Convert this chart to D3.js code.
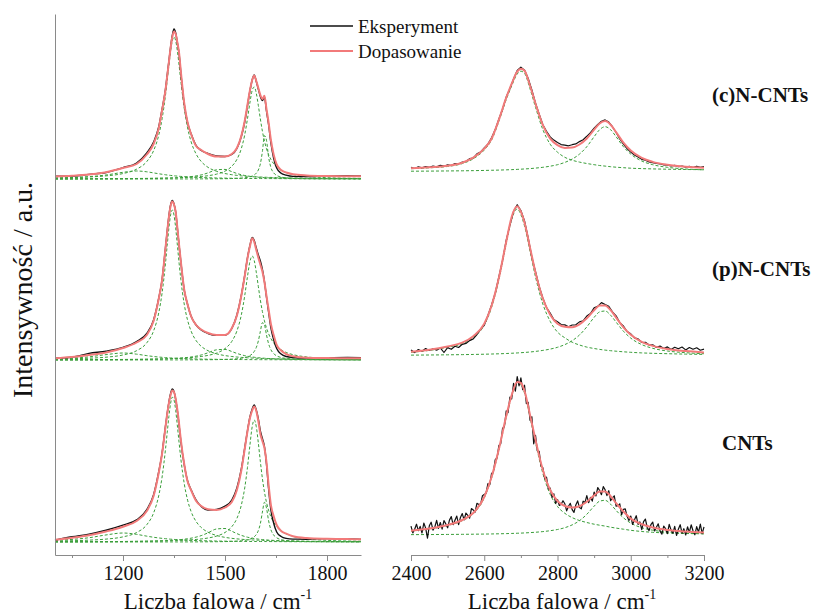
<!DOCTYPE html>
<html><head><meta charset="utf-8">
<script src="https://cdn.jsdelivr.net/npm/d3@7"></script>
<style>body{margin:0;background:#fff}svg{display:block}</style>
</head><body>
<script>
// ===== DATA =====
// Left panel wavenumber sampling (cm-1)
const leftWavenumbers = [1000,1050,1100,1150,1200, 1240,1270,1290,1305,1315, 1325,1330,1335,1340,1345, 1350,1355,1360,1365,1370, 1380,1390,1400,1415,1430, 1450,1475,1500,1520,1535, 1548,1558,1566,1573,1580, 1586,1592,1598,1604,1610, 1616,1622,1628,1635,1643, 1652,1665,1680,1700,1740, 1800,1860,1900];

// (c)N-CNTs, left panel
const cExpLeft = [2.8,2.9,4.6,6.5,11.4, 16,26,37,52,70, 90,104,118,132,143.5, 150,146,136,125,106.5, 75,56,45.5,33.5,28.5, 25.5,23,22.5,24.5,30.5, 42.5,57,73,87.5,99, 104,97.5,90,82.5,78.5, 82,68,55,36,21, 11,5.8,3.8,2.6,2.4, 2.9,3.2,3.1];
const cFitLeft = [2.5,3.2,4.4,6.8,11, 15,24.5,35,50.5,69, 89,103,117,131,142, 147.5,145,136.5,126,108, 76,56.5,45.3,33,29, 25,22.5,22.5,25,31, 43,58,74,88,99, 103.5,98,91,84,80, 83.3,70,57,39,24.5, 14.5,9,6.5,4.8,3.6, 3,2.8,2.7];
const cD4Left = [0.99,1.47,2.34,4,6.68, 8,7.2,6.11,5.26,4.72, 4.23,4,3.79,3.58,3.39, 3.21,3.04,2.88,2.73,2.59, 2.34,2.12,1.92,1.67,1.47, 1.24,1.02,0.86,0.75,0.68, 0.63,0.59,0.57,0.54,0.52, 0.5,0.49,0.47,0.46,0.45, 0.44,0.43,0.42,0.41,0.39, 0.38,0.36,0.33,0.3,0.25, 0.2,0.16,0.15];
const cDLeft = [1.04,1.41,2.02,3.13,5.46, 9.83,17.5,28.4,43.7,60.2, 83.8,98.3,113.6,127.8,138.2, 142,138.2,127.8,113.6,98.3, 71,51.1,37.6,25,17.5, 11.7,7.7,5.46,4.29,3.64, 3.18,2.89,2.69,2.52,2.37, 2.26,2.15,2.05,1.95,1.87, 1.78,1.71,1.63,1.56,1.47, 1.39,1.28,1.16,1.04,0.84, 0.63,0.49,0.42];
const cD3Left = [0.1,0.13,0.16,0.21,0.29, 0.38,0.49,0.59,0.68,0.75, 0.84,0.89,0.94,1,1.06, 1.13,1.21,1.29,1.38,1.48, 1.71,2,2.36,3.08,4.1, 6.1,9.2,9.6,7.35,5.52, 4.26,3.51,3.02,2.66,2.36, 2.13,1.94,1.76,1.61,1.48, 1.36,1.25,1.16,1.06,0.97, 0.87,0.75,0.65,0.54,0.38, 0.25,0.18,0.15];
const cGLeft = [0.18,0.22,0.26,0.33,0.42, 0.52,0.62,0.71,0.79,0.84, 0.91,0.95,0.98,1.02,1.07, 1.11,1.16,1.21,1.27,1.33, 1.46,1.61,1.78,2.1,2.52, 3.29,4.87,7.86,12.7,19.6, 30.4,44.2,60,75.8,88.7, 92,85.8,73.6,60,47.8, 38,30.4,24.6,19.6,15.4, 12,8.79,6.41,4.47,2.52, 1.33,0.81,0.62];
const cDpLeft = [0.01,0.01,0.02,0.02,0.03, 0.03,0.04,0.04,0.05,0.05, 0.05,0.05,0.06,0.06,0.06, 0.06,0.07,0.07,0.07,0.07, 0.08,0.09,0.09,0.11,0.13, 0.16,0.22,0.32,0.46,0.64, 0.9,1.22,1.61,2.11,2.91, 4,5.8,9,15.2,27.4, 43.3,38.8,22.5,11.5,6.2, 3.6,1.95,1.14,0.66,0.3, 0.14,0.08,0.06];

// (p)N-CNTs, left panel
const pExpLeft = [1.9,2.8,6.6,8.8,12.6, 18.4,26.5,40,61.5,80.5, 112.5,129,144,155,159.5, 156,148,131.5,114.5,98.5, 70,55.5,44,35,30, 26.5,24.6,24.8,31.5,45, 64.5,84.5,102,114,122.5, 119.5,112,105,99,90.5, 78.5,63,48.5,32,20.5, 11.5,6,3.5,2.5,2, 2.3,2.6,2.4];
const pFitLeft = [1.7,3,5,7.5,12, 17.5,25,39,61,80, 112,128,143,154,158.5, 155.5,148,132,115,99, 70.5,55.5,44,35,30.5, 27,25,25,31.7,44.5, 64.3,84,101.5,113.2,121.7, 118,110,102.5,95.5,88.5, 78,64,51,36,25, 15,9.5,5.8,3.8,2.2, 1.9,1.8,1.7];
const pD4Left = [1.18,1.85,3.13,5.35,7, 5.84,4.36,3.5,2.97,2.66, 2.39,2.27,2.15,2.05,1.95, 1.85,1.76,1.68,1.61,1.53, 1.4,1.28,1.18,1.04,0.93, 0.8,0.68,0.58,0.51,0.47, 0.44,0.42,0.4,0.38,0.37, 0.36,0.35,0.34,0.33,0.32, 0.31,0.3,0.29,0.29,0.28, 0.27,0.25,0.24,0.22,0.19, 0.15,0.13,0.11];
const pDLeft = [0.91,1.25,1.8,2.82,5.03, 9.3,17.2,29.1,47,67.1, 96.8,114.6,131.9,145,150, 145,131.9,114.6,96.8,80.8, 56,39.7,29.1,19.4,13.7, 9.3,6.2,4.41,3.49,2.97, 2.61,2.37,2.21,2.07,1.95, 1.86,1.77,1.69,1.61,1.54, 1.47,1.41,1.35,1.29,1.22, 1.15,1.06,0.97,0.86,0.7, 0.53,0.41,0.35];
const pD3Left = [0.14,0.17,0.21,0.28,0.38, 0.51,0.65,0.77,0.89,0.99, 1.1,1.16,1.23,1.3,1.38, 1.47,1.57,1.67,1.78,1.91, 2.2,2.55,2.99,3.85,5.02, 7.19,10.2,10.6,8.48,6.59, 5.21,4.35,3.78,3.35,2.99, 2.72,2.48,2.26,2.08,1.91, 1.76,1.63,1.51,1.38,1.26, 1.14,0.99,0.85,0.71,0.51, 0.34,0.24,0.19];
const pGLeft = [0.24,0.29,0.35,0.44,0.56, 0.7,0.84,0.96,1.07,1.15, 1.24,1.29,1.34,1.4,1.46, 1.52,1.59,1.66,1.73,1.81, 2,2.21,2.46,2.91,3.5, 4.6,6.89,11.4,18.6,29, 45,64.3,83.2,97.9,104, 99.4,87.8,73.6,59.9,48.4, 39.2,32,26.4,21.4,17.2, 13.7,10.2,7.56,5.36,3.09, 1.66,1.03,0.79];
const pDpLeft = [0.02,0.02,0.03,0.03,0.04, 0.05,0.06,0.07,0.08,0.08, 0.09,0.09,0.1,0.1,0.1, 0.11,0.11,0.12,0.12,0.13, 0.14,0.15,0.17,0.19,0.22, 0.28,0.39,0.58,0.86,1.21, 1.74,2.39,3.22,4.34,6.1, 8.54,12.5,19,28.6,37.3, 35.1,25.2,16.5,10.3,6.44, 4.15,2.48,1.54,0.94,0.45, 0.21,0.12,0.09];

// CNTs, left panel
const nExpLeft = [1.9,5.2,7.9,11.8,16.9, 22.1,32.4,47.2,70,89, 116,128.5,140,148.5,153, 150.5,142.5,131,116.5,101, 77.5,61,52.5,42,35.5, 32,32.6,35.8,42,54, 73,94,111,124.5,133, 137,132,123,111,103.5, 95.5,78,54,32,19, 10,5.5,3.6,2.9,2.8, 3.4,3.1,2.6];
const nFitLeft = [2.3,4.3,6.8,10.5,15.3, 21,31,46,69,88.5, 115,128,139,147,151.5, 150,143,132,118,102.5, 78,60.5,52,41,36, 32.8,32,34.5,40,52, 71.5,93,110.5,123.5,131.5, 135.5,131,121,108,101, 94,80,58,37,26, 17,11,8.3,5.8,4, 3.2,2.9,2.7];
const nD4Left = [1.66,2.58,4.27,7.05,9, 7.65,5.83,4.74,4.05,3.65, 3.3,3.13,2.98,2.84,2.7, 2.58,2.46,2.34,2.24,2.14, 1.96,1.8,1.66,1.47,1.31, 1.13,0.96,0.82,0.73,0.67, 0.62,0.59,0.57,0.55,0.53, 0.51,0.5,0.49,0.48,0.47, 0.46,0.45,0.44,0.43,0.41, 0.4,0.38,0.35,0.32,0.27, 0.22,0.18,0.16];
const nDLeft = [0.94,1.29,1.85,2.9,5.14, 9.48,17.3,29,46.2,65, 92.8,109.3,125.6,138.6,144.8, 142.1,131.4,116,99.3,83.6, 58.7,41.8,30.7,20.5,14.5, 9.8,6.53,4.64,3.66,3.11, 2.74,2.49,2.31,2.17,2.05, 1.95,1.85,1.77,1.69,1.61, 1.54,1.48,1.42,1.35,1.28, 1.2,1.11,1.01,0.9,0.73, 0.55,0.43,0.37];
const nD3Left = [0.18,0.22,0.27,0.36,0.48, 0.65,0.83,0.98,1.13,1.26, 1.4,1.48,1.57,1.65,1.76, 1.87,2,2.13,2.27,2.43, 2.8,3.25,3.81,4.9,6.39, 9.15,13,13.5,10.8,8.39, 6.63,5.54,4.81,4.26,3.81, 3.46,3.16,2.88,2.65,2.43, 2.24,2.07,1.92,1.76,1.6, 1.45,1.26,1.08,0.9,0.65, 0.43,0.31,0.24];
const nGLeft = [0.22,0.26,0.32,0.4,0.51, 0.63,0.76,0.86,0.96,1.03, 1.11,1.15,1.2,1.25,1.3, 1.35,1.41,1.48,1.54,1.61, 1.77,1.95,2.16,2.55,3.06, 3.99,5.89,9.52,15.3,23.6, 36.9,54.1,74.4,96,115.4, 122,115.4,99.2,80.4,63.5, 50,39.7,31.9,25.2,19.7, 15.3,11.1,8.08,5.6,3.13, 1.64,1.01,0.77];
const nDpLeft = [0.02,0.02,0.02,0.03,0.03, 0.04,0.05,0.05,0.06,0.06, 0.07,0.07,0.07,0.08,0.08, 0.08,0.08,0.09,0.09,0.09, 0.1,0.11,0.12,0.14,0.16, 0.21,0.29,0.42,0.6,0.84, 1.17,1.59,2.09,2.78,3.81, 5.21,7.49,11.4,18.4,29.9, 39.7,34.1,21.7,12.3,7.03, 4.21,2.35,1.4,0.82,0.38, 0.17,0.1,0.07];

// Right panel wavenumber sampling for fits/components (cm-1)
const rightWavenumbers = [2400,2450,2500,2540,2570, 2600,2620,2640,2660,2675, 2690,2700,2710,2725,2740, 2760,2780,2800,2820,2840, 2860,2880,2900,2915,2930, 2945,2960,2980,3000,3030, 3060,3100,3150,3200];

const cFitRight = [3.5,4.5,6,9,14, 23,33,52,74,88, 100,103,101,86,68, 46.5,33,26.5,23.7,24.1, 27.2,33.2,42,48.2,50.6, 47,39.5,29,21.1,13.8, 9.8,6.9,4.9,3.9];
const c2DRight = [3,3.9,5.25,8.1,12.9, 21.7,31.6,50.4,72.1,85.9, 97.7,100.5,98.3,82.9,64.4, 42.1,27.5,19.5,14.4,11.5, 9.6,8.2,7,6.2,5.6, 5,4.5,4,3.5,3.1, 2.8,2.5,2.2,2];
const cDGRight = [0.5,0.6,0.75,0.9,1.06, 1.26,1.42,1.62,1.86,2.07, 2.32,2.52,2.74,3.1,3.6, 4.4,5.5,7,9.3,12.6, 17.6,25,35,42,45, 42,35,25,17.6,10.7, 7,4.4,2.74,1.86];

const pFitRight = [4,6,9.3,13,19.5, 32,50,78,114,139, 149.5,144,133,108,83, 57,41,32,29,28.5, 31.4,37.4,45.5,50.1,50.3, 45.5,38.1,28.4,21,13.9, 9.8,6.7,4.6,3.3];
const p2DRight = [3.4,5.3,8.4,12,18.2, 30.5,48.3,76,111.8,136.5, 146.7,141,129.7,104.3,78.7, 51.7,34.4,23.6,17.9,13.5, 10.7,8.6,7.2,6.3,5.6, 5,4.5,3.9,3.4,2.8, 2.4,2,1.6,1.3];
const pDGRight = [0.58,0.71,0.88,1.07,1.25, 1.48,1.68,1.91,2.2,2.45, 2.75,3,3.25,3.7,4.3, 5.3,6.6,8.4,11.1,15, 20.7,28.8,38.3,43.8,44.7, 40.5,33.6,24.5,17.6,11.1, 7.4,4.7,3,2];

const nFitRight = [4.3,6.5,10,15,22, 38,58,86,119,140, 153,152,144,120,95, 65,45,34,29,27.5, 28.8,33.2,39.6,43.6,43.6, 38.8,31.8,23.5,16.4,10.8, 7.5,5,3.4,2.5];
const n2DRight = [3.9,6,9.4,14.3,21.2, 37.1,56.9,84.8,117.6,138.4, 151.2,150.1,141.9,117.6,92.3, 61.6,40.7,28.5,21.7,17.4, 14.5,12.5,10.8,9.8,8.9, 7.8,6.9,5.8,4.7,3.5, 2.7,2,1.5,1.2];
const nDGRight = [0.37,0.45,0.56,0.68,0.79, 0.94,1.06,1.21,1.39,1.56, 1.76,1.9,2.07,2.38,2.75, 3.4,4.3,5.5,7.3,10.1, 14.3,20.7,28.8,33.8,34.7, 30.8,24.6,17.2,11.9,7.3, 4.8,3,1.9,1.3];

// Right panel measured spectra (uniform sampling from 2400 cm-1)
const cExpRight = [4.5,3.2,4.8,3.9,5.2,4.4,5.6,4.9,6.3,5.5, 6.8,6.2,8.1,7.7,9.6,10.2,13.1,13.6,17.8,19.6, 23.8,27.6,33.9,42.1,52.8,62.5,74.6,83,92.8,101.2, 104.5,101.6,93.2,81.8,68.6,57.4,46.9,40.3,34.8,31.6, 29.2,27.1,26.5,25.9,27,27.8,30.1,32,35.4,39.1, 43.5,47.2,50.4,51.8,49.6,45,39.2,32.8,27.6,23.2, 19.6,16.8,14.7,12.4,11.6,9.8,9.1,8.2,7.9,6.8, 6.6,5.7,6.3,5.1,5.6,4.6,5.3,4.2,5.5,4.4, 5.2];
const pExpRight = [5.8,3.1,6.2,4.4,7.1,5.2,6.9,5.5,7.8,3.2, 8.1,6.4,9.5,8.2,11.4,12.3,15.1,16.8,21.2,26.4, 30.3,40.2,50.8,62.7,79.1,95.2,115.6,130.4,144.3,151, 145.2,134.8,117.9,98.6,84.1,69.2,57.8,48.1,42.6,36.2, 33.9,31.2,30.8,28.9,30.7,30.9,33.8,34.9,39.6,42.1, 47.8,49.4,53.1,51.2,49.5,43.8,39.9,33.1,29.7,24.1, 21.9,17.8,16.9,13.2,13.4,10.6,10.9,8.3,9.6,7.2, 8.8,6.1,8.4,6.9,8.7,5.8,8.2,6.4,7.9,5.5, 6.6];
const nExpRight = [8.9,2.1,5.8,10.8,4.3,8.6,2,12,6.9,-3.2, 9.2,12.8,4.9,8,14.7,6.6,12.5,5.9,14.5,11.1, 7.2,14.9,18.4,10.3,14.7,18.9,10.4,17.5,21.4,15.1, 22,19.7,16.8,26.4,25.1,22.9,31.7,30.6,30.6,39.2, 40.5,41.8,51.3,50.2,61.6,63.1,75.4,77.2,89.6,91.3, 106.7,108.2,124.1,122.5,137.8,136.2,151.6,143.9,158.4,149.1, 157.2,145.3,149.8,131.4,132.6,114.7,118.3,91.2,99.6,84.1, 83.7,68.9,67.4,56.3,57.8,46.1,46.9,37.6,41.2,31.5, 35.5,29.5,30.7,34.3,31.2,24.1,28.8,31.7,25.4,22.6, 30,34.1,27.4,26.2,33.8,32.4,39.3,32.3,37.6,33.9, 43,39.1,47.5,44.5,40.3,48.4,45.3,39.4,44.3,34.4, 37.2,39.2,28.9,29.3,31.2,20.3,25.6,26.1,18.7,14.4, 19,10.6,15,19.3,10.5,13.1,5.3,13.3,15.9,7.5, 4.4,10.3,12.9,4.1,7.8,11.2,3.9,0.8,8.9,6.4, 1.4,10.6,5.1,1.7,8.6,-0.5,5.8,10.3,1.8,6.3, 0,8.2,2.6,10.2,4.3,0.2,8.3,2.9,10.9,1.4, 8.1];

// Axis ticks
const leftMajorTicks = [1200, 1500, 1800];
const leftMinorTicks = [1050, 1350, 1650];
const rightMajorTicks = [2400, 2600, 2800, 3000, 3200];
const rightMinorTicks = [2500, 2700, 2900, 3100];

const sampleLabels = ["(c)N-CNTs", "(p)N-CNTs", "CNTs"];
const legendLabels = ["Eksperyment", "Dopasowanie"];
const axisTitle = "Liczba falowa / cm";
const yTitle = "Intensywność / a.u.";

// ===== LAYOUT / STYLE =====
const FONT = "'Liberation Serif','Times New Roman',serif";
const COL_EXP = "#111111", COL_FIT = "#f27a7a", COL_COMP = "#3a9e3a", COL_AXIS = "#8a8a8a";

const svg = d3.select("body").append("svg")
  .attr("width", 824).attr("height", 615)
  .style("font-family", FONT);

const y = d3.scaleLinear().domain([-13, 528]).range([555, 14]);
const xL = d3.scaleLinear().domain([1000, 1900]).range([55, 361]);
const xR = d3.scaleLinear().domain([2400, 3200]).range([411, 704]);

const rightExp10 = d3.range(2400, 3200.001, 10);
const rightExp5 = d3.range(2400, 3200.001, 5);

// stacked spectra (offset = baseline in intensity units)
const leftSpectra = [
  {off: 363, exp: cExpLeft, fit: cFitLeft, comps: [cD4Left, cDLeft, cD3Left, cGLeft, cDpLeft]},
  {off: 182, exp: pExpLeft, fit: pFitLeft, comps: [pD4Left, pDLeft, pD3Left, pGLeft, pDpLeft]},
  {off: 0,   exp: nExpLeft, fit: nFitLeft, comps: [nD4Left, nDLeft, nD3Left, nGLeft, nDpLeft]}
];
const rightSpectra = [
  {off: 370.3, expX: rightExp10, exp: cExpRight, fit: cFitRight, comps: [c2DRight, cDGRight]},
  {off: 186.3, expX: rightExp10, exp: pExpRight, fit: pFitRight, comps: [p2DRight, pDGRight]},
  {off: 7,     expX: rightExp5,  exp: nExpRight, fit: nFitRight, comps: [n2DRight, nDGRight]}
];

function drawLine(x, xs, vals, off, stroke, width, dash, curve) {
  svg.append("path").datum(vals)
    .attr("fill", "none").attr("stroke", stroke).attr("stroke-width", width)
    .attr("stroke-dasharray", dash)
    .attr("stroke-linejoin", "round")
    .attr("d", d3.line().x((d, i) => x(xs[i])).y(d => y(d + off)).curve(curve));
}

leftSpectra.forEach(s => {
  s.comps.forEach(c => drawLine(xL, leftWavenumbers, c, s.off, COL_COMP, 1, "3,2", d3.curveMonotoneX));
  drawLine(xL, leftWavenumbers, s.exp, s.off, COL_EXP, 1.4, null, d3.curveMonotoneX);
  drawLine(xL, leftWavenumbers, s.fit, s.off, COL_FIT, 2, null, d3.curveMonotoneX);
});
rightSpectra.forEach(s => {
  s.comps.forEach(c => drawLine(xR, rightWavenumbers, c, s.off, COL_COMP, 1, "3,2", d3.curveMonotoneX));
  drawLine(xR, s.expX, s.exp, s.off, COL_EXP, 1.2, null, d3.curveLinear);
  drawLine(xR, rightWavenumbers, s.fit, s.off, COL_FIT, 2, null, d3.curveMonotoneX);
});

// axes
function styleAxis(g) {
  g.attr("font-family", FONT).attr("font-size", 20);
  g.selectAll(".domain").attr("stroke", COL_AXIS);
  g.selectAll(".tick line").attr("stroke", COL_AXIS);
  g.selectAll(".tick text").attr("fill", "#111");
}
function xAxis(scale, majors, minors) {
  const gMaj = svg.append("g").attr("transform", "translate(0,555)")
    .call(d3.axisBottom(scale).tickValues(majors).tickSize(6).tickSizeOuter(0).tickPadding(5).tickFormat(d3.format("d")));
  styleAxis(gMaj);
  const gMin = svg.append("g").attr("transform", "translate(0,555)")
    .call(d3.axisBottom(scale).tickValues(minors).tickSize(3).tickSizeOuter(0).tickFormat(""));
  gMin.select(".domain").remove();
  styleAxis(gMin);
}
xAxis(xL, leftMajorTicks, leftMinorTicks);
xAxis(xR, rightMajorTicks, rightMinorTicks);

const gY = svg.append("g").attr("transform", "translate(55,0)")
  .call(d3.axisLeft(y).tickValues([]).tickSizeOuter(0));
styleAxis(gY);

// axis titles
[218, 562].forEach(cx => {
  const t = svg.append("text").attr("x", cx).attr("y", 609).attr("text-anchor", "middle")
    .attr("font-size", 23).attr("fill", "#111");
  t.append("tspan").text(axisTitle);
  t.append("tspan").attr("font-size", 14).attr("dy", -10).text("-1");
});
svg.append("text").attr("transform", "translate(32,290) rotate(-90)")
  .attr("text-anchor", "middle").attr("font-size", 28).attr("fill", "#111").text(yTitle);

// legend
const legendY = [26, 51];
[COL_EXP, COL_FIT].forEach((c, i) => {
  svg.append("line").attr("x1", 310).attr("x2", 353).attr("y1", legendY[i]).attr("y2", legendY[i])
    .attr("stroke", c).attr("stroke-width", c === COL_FIT ? 2 : 1.5);
  svg.append("text").attr("x", 358).attr("y", legendY[i] + 7).attr("font-size", 19).attr("fill", "#111")
    .text(legendLabels[i]);
});

// sample labels
const labelPos = [[712, 102], [712, 276], [722, 450]];
sampleLabels.forEach((s, i) => {
  svg.append("text").attr("x", labelPos[i][0]).attr("y", labelPos[i][1])
    .attr("font-size", 21).attr("font-weight", "bold").attr("fill", "#111").text(s);
});
</script>
</body></html>
